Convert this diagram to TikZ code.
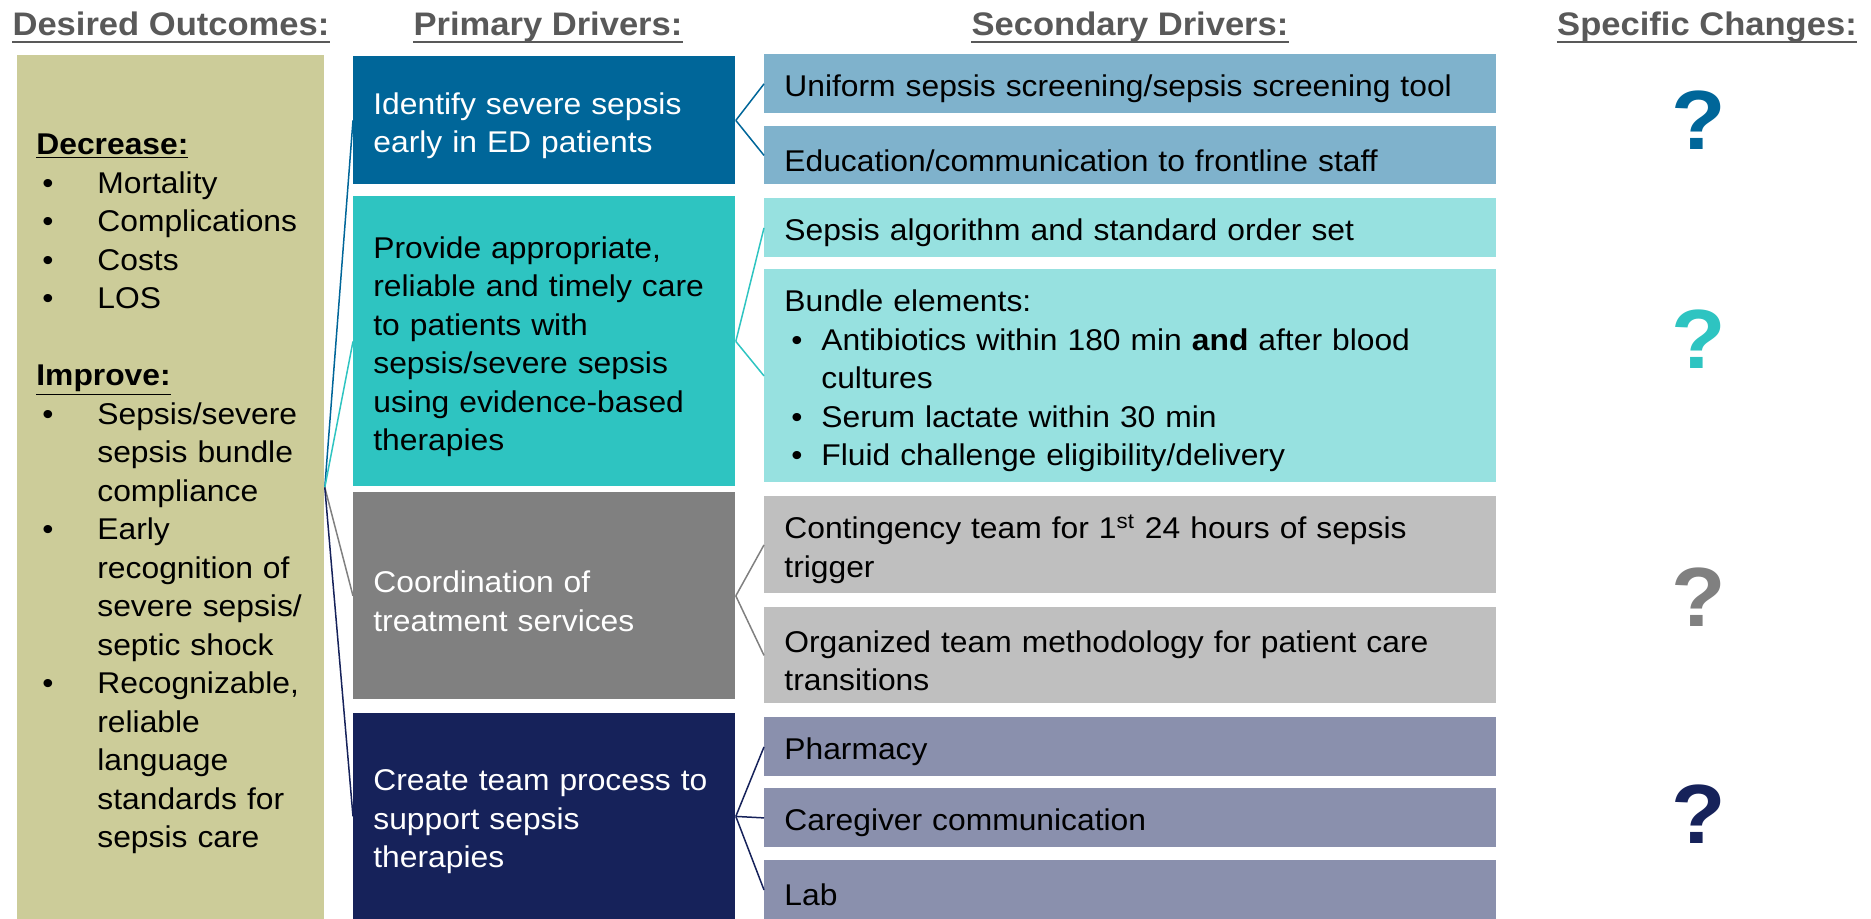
\documentclass[tikz,border=0pt]{standalone}
\usepackage{fontspec}
\setmainfont{Liberation Sans}[FakeStretch=1.06]

% palette
\definecolor{khaki}{RGB}{204,204,153}
\definecolor{pblue}{RGB}{0,102,153}
\definecolor{pteal}{RGB}{46,196,193}
\definecolor{pgray}{RGB}{128,128,128}
\definecolor{pnavy}{RGB}{22,34,90}
\definecolor{sblue}{RGB}{127,178,204}
\definecolor{steal}{RGB}{151,225,224}
\definecolor{sgray}{RGB}{191,191,191}
\definecolor{snavy}{RGB}{138,144,173}
\definecolor{hdrgray}{RGB}{89,89,89}

% bullet helpers
\newcommand{\dobul}{\makebox[30.5pt][l]{\hspace{3pt}•}}
\newcommand{\docont}{\hspace*{30.5pt}}
\newcommand{\sdbul}{\makebox[18.5pt][l]{\hspace{3.5pt}•}}
\newcommand{\sdcont}{\hspace*{18.5pt}}
% tall invisible strut that lowers a text block in its box
\newcommand{\topstrut}{\rule{0pt}{16pt}}

\begin{document}
\begin{tikzpicture}[x=0.5pt,y=-0.5pt,
  bodyfont/.style={font=\fontsize{15pt}{19.25pt}\selectfont},
  boxbase/.style={bodyfont, anchor=north west, draw=none, inner ysep=0pt,
    align=left},
  pbox/.style={boxbase, inner xsep=10pt, text width=171pt, minimum width=191pt},
  sbox/.style={boxbase, inner xsep=10pt, text width=346pt, minimum width=366pt,
    text=black},
  hdr/.style={font=\fontsize{16.3pt}{19pt}\selectfont\bfseries, text=hdrgray,
    inner sep=0pt, anchor=base},
  uline/.style={draw=hdrgray, line width=1.2pt},
  link/.style={line width=0.75pt},
  qmark/.style={font=\fontsize{42pt}{44pt}\selectfont\bfseries, inner sep=0pt}
]
\useasboundingbox (0,0) rectangle (1871,919);

% column headers
\node[hdr] (h1) at (171,36) {Desired Outcomes:};
\node[hdr] (h2) at (548,36) {Primary Drivers:};
\node[hdr] (h3) at (1130,36) {Secondary Drivers:};
\node[hdr] (h4) at (1707,36) {Specific Changes:};
\foreach \h in {h1,h2,h3,h4}
  \draw[uline] ([yshift=-3pt]\h.base west) -- ([yshift=-3pt]\h.base east);

% desired outcomes
\node[boxbase, fill=khaki, inner xsep=9.5pt, text width=134.5pt,
  minimum width=153.5pt, minimum height=432pt] (do) at (17,55) {%
  \rule{0pt}{17pt}\textbf{\underline{Decrease:}}\\
  \dobul Mortality\\
  \dobul Complications\\
  \dobul Costs\\
  \dobul LOS\\[19.25pt]
  \textbf{\underline{Improve:}}\\
  \dobul Sepsis/severe\\
  \docont sepsis bundle\\
  \docont compliance\\
  \dobul Early\\
  \docont recognition of\\
  \docont severe sepsis/\\
  \docont septic shock\\
  \dobul Recognizable,\\
  \docont reliable\\
  \docont language\\
  \docont standards for\\
  \docont sepsis care};

% primary drivers
\node[pbox, fill=pblue, text=white, minimum height=64pt] (p1) at (353,56)
  {\topstrut Identify severe sepsis\\early in ED patients};
\node[pbox, fill=pteal, text=black, minimum height=145pt] (p2) at (353,196)
  {\topstrut Provide appropriate,\\reliable and timely care\\to patients with\\sepsis/severe sepsis\\using evidence-based\\therapies};
\node[pbox, fill=pgray, text=white, minimum height=103.5pt] (p3) at (353,492)
  {\topstrut Coordination of\\treatment services};
\node[pbox, fill=pnavy, text=white, minimum height=103pt] (p4) at (353,713)
  {\topstrut Create team process to\\support sepsis\\therapies};

% secondary drivers
\node[sbox, fill=sblue, minimum height=29.5pt] (s1) at (764,54)
  {\topstrut Uniform sepsis screening/sepsis screening tool};
\node[sbox, fill=sblue, minimum height=29pt] (s2) at (764,126)
  {\topstrut Education/communication to frontline staff};
\node[sbox, fill=steal, minimum height=29.5pt] (s3) at (764,198)
  {\topstrut Sepsis algorithm and standard order set};
\node[sbox, fill=steal, minimum height=106.5pt] (s4) at (764,269)
  {\topstrut Bundle elements:\\
   \sdbul Antibiotics within 180 min \textbf{and} after blood\\
   \sdcont cultures\\
   \sdbul Serum lactate within 30 min\\
   \sdbul Fluid challenge eligibility/delivery};
\node[sbox, fill=sgray, minimum height=48.5pt] (s5) at (764,496)
  {\topstrut Contingency team for 1\textsuperscript{st} 24 hours of sepsis\\trigger};
\node[sbox, fill=sgray, minimum height=48pt] (s6) at (764,607)
  {\topstrut Organized team methodology for patient care\\transitions};
\node[sbox, fill=snavy, minimum height=29.5pt] (s7) at (764,717)
  {\topstrut Pharmacy};
\node[sbox, fill=snavy, minimum height=29.5pt] (s8) at (764,788)
  {\topstrut Caregiver communication};
\node[sbox, fill=snavy, minimum height=29.5pt] (s9) at (764,860)
  {\topstrut Lab};

% outcome to primary drivers
\draw[link, pblue] (do.east) -- (p1.west);
\draw[link, pteal] (do.east) -- (p2.west);
\draw[link, pgray] (do.east) -- (p3.west);
\draw[link, pnavy] (do.east) -- (p4.west);

% primary to secondary drivers
\draw[link, pblue] (p1.east) -- (s1.west);
\draw[link, pblue] (p1.east) -- (s2.west);
\draw[link, pteal] (p2.east) -- (s3.west);
\draw[link, pteal] (p2.east) -- (s4.west);
\draw[link, pgray] (p3.east) -- (s5.west);
\draw[link, pgray] (p3.east) -- (s6.west);
\draw[link, pnavy] (p4.east) -- (s7.west);
\draw[link, pnavy] (p4.east) -- (s8.west);
\draw[link, pnavy] (p4.east) -- (s9.west);

% specific changes
\node[qmark, text=pblue] (q1) at (1699,120) {?};
\node[qmark, text=pteal] (q2) at (1699,339) {?};
\node[qmark, text=pgray] (q3) at (1699,597) {?};
\node[qmark, text=pnavy] (q4) at (1699,814) {?};
\end{tikzpicture}
\end{document}
